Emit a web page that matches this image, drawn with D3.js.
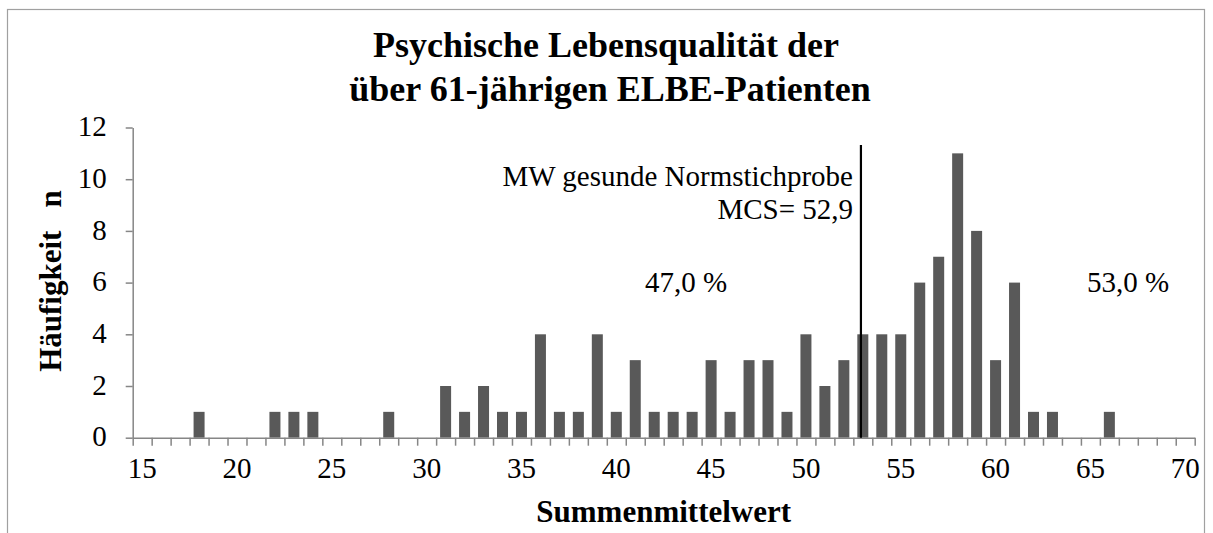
<!DOCTYPE html>
<html>
<head>
<meta charset="utf-8">
<script src="https://cdn.jsdelivr.net/npm/d3@7"></script>
<style>
  body { margin: 0; background: #fff; }
  svg { display: block; }
</style>
</head>
<body>
<svg id="chart" width="1213" height="533"></svg>
<script>
// data
const SCORES = [18, 22, 23, 24, 28, 31, 32, 33, 34, 35, 36, 37, 38, 39, 40, 41, 42, 43, 44, 45, 46,
                47, 48, 49, 50, 51, 52, 53, 54, 55, 56, 57, 58, 59, 60, 61, 62, 63, 66];
const COUNTS = [1, 1, 1, 1, 1, 2, 1, 2, 1, 1, 4, 1, 1, 4, 1, 3, 1, 1, 1, 3, 1,
                3, 3, 1, 4, 2, 3, 4, 4, 4, 6, 7, 11, 8, 3, 6, 1, 1, 1];
const CATEGORIES = d3.range(15, 71);
const X_LABELS = [15, 20, 25, 30, 35, 40, 45, 50, 55, 60, 65, 70];
const Y_TICKS = [0, 2, 4, 6, 8, 10, 12];
const MCS = 52.9;
const SHARES = ["47,0 %", "53,0 %"];

const LEFT = 132.7, RIGHT = 1194.7, TOP = 127.5, BOTTOM = 437.7;
const GREY = "#868686";
const SERIF = "'Liberation Serif', 'Times New Roman', serif";

const svg = d3.select("#chart")
    .attr("font-family", SERIF);

// outer frame of the chart
svg.append("rect")
    .attr("x", 7.5).attr("y", 9.5)
    .attr("width", 1197).attr("height", 540)
    .attr("fill", "none")
    .attr("stroke", "#a0a0a0")
    .attr("stroke-width", 1.2);

const x = d3.scaleBand()
    .domain(CATEGORIES)
    .range([LEFT, RIGHT])
    .paddingInner(0.42)
    .paddingOuter(0.21);

// category edges, category c runs from c to c+1
const xEdge = d3.scaleLinear()
    .domain([15, 71])
    .range([LEFT, RIGHT]);

const y = d3.scaleLinear()
    .domain([0, 12])
    .range([BOTTOM, TOP]);

// bars
svg.append("g").selectAll("rect")
    .data(SCORES)
    .enter()
    .append("rect")
    .attr("x", (d) => x(d))
    .attr("width", x.bandwidth())
    .attr("y", (d, i) => y(COUNTS[i]))
    .attr("height", (d, i) => y(0) - y(COUNTS[i]))
    .attr("fill", "#595959");

// x axis: minor ticks on every category edge
const xAxis = svg.append("g")
    .attr("transform", `translate(0,${BOTTOM})`)
    .call(d3.axisBottom(xEdge)
        .tickValues(d3.range(15, 72))
        .tickFormat("")
        .tickSize(8)
        .tickSizeOuter(0));
xAxis.select(".domain").attr("stroke", GREY).attr("stroke-width", 1.5);
xAxis.selectAll(".tick line").attr("stroke", GREY).attr("stroke-width", 1.5);

// x labels centred on their categories
svg.append("g")
    .attr("transform", `translate(0,${BOTTOM})`)
    .call(d3.axisBottom(x)
        .tickValues(X_LABELS)
        .tickSize(0)
        .tickPadding(20))
    .call(g => g.select(".domain").remove())
    .call(g => g.attr("font-family", SERIF).attr("font-size", 29))
    .selectAll("text")
    .attr("fill", "#000");

// y axis
const yAxis = svg.append("g")
    .attr("transform", `translate(${LEFT},0)`)
    .call(d3.axisLeft(y)
        .tickValues(Y_TICKS)
        .tickSize(7)
        .tickSizeOuter(0)
        .tickPadding(19));
yAxis.attr("font-family", SERIF).attr("font-size", 29);
yAxis.select(".domain").attr("stroke", GREY).attr("stroke-width", 1.5);
yAxis.selectAll(".tick line").attr("stroke", GREY).attr("stroke-width", 1.5);
yAxis.selectAll("text").attr("fill", "#000").attr("dy", "0.28em");

// mean of the healthy norm sample
const mx = xEdge(MCS + 0.5);
svg.append("line")
    .attr("x1", mx).attr("x2", mx)
    .attr("y1", 145).attr("y2", BOTTOM)
    .attr("stroke", "#000")
    .attr("stroke-width", 2.2);

svg.append("text")
    .attr("x", 853).attr("y", 186)
    .attr("text-anchor", "end")
    .attr("font-size", 29)
    .text("MW gesunde Normstichprobe");
svg.append("text")
    .attr("x", 853).attr("y", 219)
    .attr("text-anchor", "end")
    .attr("font-size", 29)
    .text("MCS= " + String(MCS).replace(".", ","));

// shares left and right of the line
svg.append("text")
    .attr("x", 686).attr("y", 292)
    .attr("text-anchor", "middle")
    .attr("font-size", 29)
    .text(SHARES[0]);
svg.append("text")
    .attr("x", 1128).attr("y", 292)
    .attr("text-anchor", "middle")
    .attr("font-size", 29)
    .text(SHARES[1]);

// titles
const title = svg.append("text")
    .attr("text-anchor", "middle")
    .attr("font-size", 36)
    .attr("font-weight", "bold");
title.append("tspan").attr("x", 606).attr("y", 57).text("Psychische Lebensqualität der");
title.append("tspan").attr("x", 610).attr("y", 101).text("über 61-jährigen ELBE-Patienten");

svg.append("text")
    .attr("x", (LEFT + RIGHT) / 2).attr("y", 522)
    .attr("text-anchor", "middle")
    .attr("font-size", 31)
    .attr("font-weight", "bold")
    .text("Summenmittelwert");

svg.append("text")
    .attr("transform", "translate(61,281) rotate(-90)")
    .attr("text-anchor", "middle")
    .attr("font-size", 31)
    .attr("font-weight", "bold")
    .style("white-space", "pre")
    .text("Häufigkeit   n");
</script>
</body>
</html>
